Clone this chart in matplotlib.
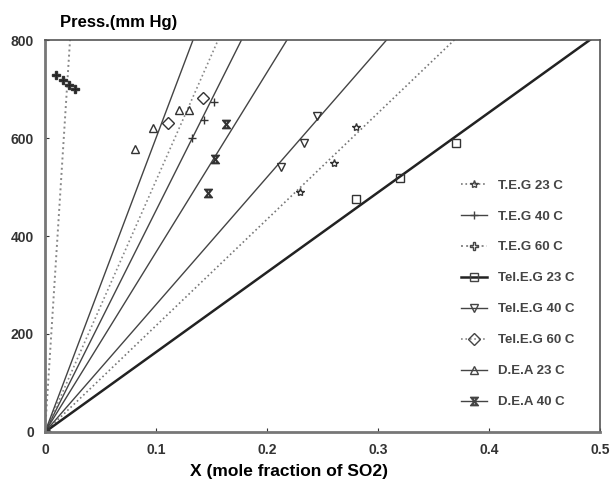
import matplotlib.pyplot as plt
import numpy as np

plt.rcParams['font.family'] = ['Liberation Sans', 'DejaVu Sans']

# measured points (mole fraction of SO2, pressure mmHg)
labels = ['T.E.G 23 C', 'T.E.G 40 C', 'T.E.G 60 C', 'Tel.E.G 23 C',
          'Tel.E.G 40 C', 'Tel.E.G 60 C', 'D.E.A 23 C', 'D.E.A 40 C']
x_data = [
    [0, 0.230, 0.260, 0.280],
    [0, 0.132, 0.143, 0.152],
    [0, 0.010, 0.016, 0.022, 0.027],
    [0, 0.280, 0.320, 0.370],
    [0, 0.213, 0.233, 0.245],
    [0, 0.111, 0.142],
    [0, 0.081, 0.097, 0.121, 0.130],
    [0, 0.147, 0.153, 0.163],
]
p_data = [
    [0, 490, 548, 622],
    [0, 600, 637, 674],
    [0, 728, 718, 708, 700],
    [0, 475, 518, 590],
    [0, 541, 590, 645],
    [0, 631, 682],
    [0, 577, 620, 657, 657],
    [0, 488, 557, 628],
]
# fitted Henry's-law slopes (mmHg per mole fraction)
slopes = [2170, 4520, 35500, 1630, 2600, 5130, 6000, 3670]

markers = ['*', '+', 'P', 's', 'v', 'D', '^', '$\u29D6$']
line_styles = [':', '-', ':', '-', '-', ':', '-', '-']
line_widths = [1.2, 1.0, 1.4, 1.8, 1.0, 1.2, 1.0, 1.0]
line_colors = ['#777777', '#444444', '#888888', '#222222',
               '#444444', '#888888', '#444444', '#444444']

fig = plt.figure(figsize=(6.15, 4.97), dpi=100)
ax = fig.add_axes([0.0732, 0.1308, 0.9024, 0.7887])

xx = np.linspace(0, 0.5, 200)
for i in range(len(labels)):
    ax.plot(xx, slopes[i] * xx, linestyle=line_styles[i], lw=line_widths[i],
            color=line_colors[i], marker=markers[i], markevery=[],
            markersize=6, mfc='none', mec='#444444', label=labels[i])
    filled = '#222222' if markers[i] == 'P' else 'none'
    ax.plot(x_data[i], p_data[i], linestyle='none', marker=markers[i],
            markersize=6, mfc=filled, mec='#333333', mew=1.0)

ax.set_xlim(0, 0.5)
ax.set_ylim(0, 800)
ax.set_xticks([0, 0.1, 0.2, 0.3, 0.4, 0.5])
ax.set_xticklabels(['0', '0.1', '0.2', '0.3', '0.4', '0.5'])
ax.set_yticks([0, 200, 400, 600, 800])
ax.tick_params(direction='in', length=3, labelsize=10, colors='#333333', pad=8)
for lab in ax.get_xticklabels() + ax.get_yticklabels():
    lab.set_fontweight('bold')

for side in ['left', 'bottom']:
    ax.spines[side].set_linewidth(2.0)
    ax.spines[side].set_color('#777777')
for side in ['top', 'right']:
    ax.spines[side].set_linewidth(1.2)
    ax.spines[side].set_color('#555555')

fig.text(0.097, 0.955, 'Press.(mm Hg)', fontsize=12, fontweight='bold', va='center')
fig.text(0.47, 0.052, 'X (mole fraction of SO2)', fontsize=12.5, fontweight='bold',
         ha='center', va='center')

leg = ax.legend(loc='lower right', bbox_to_anchor=(0.975, 0.03), frameon=False,
                handlelength=2.0, labelspacing=1.42, fontsize=9.5,
                labelcolor='#444444')
for t in leg.get_texts():
    t.set_fontweight('bold')

plt.savefig('out.png', dpi=100)
